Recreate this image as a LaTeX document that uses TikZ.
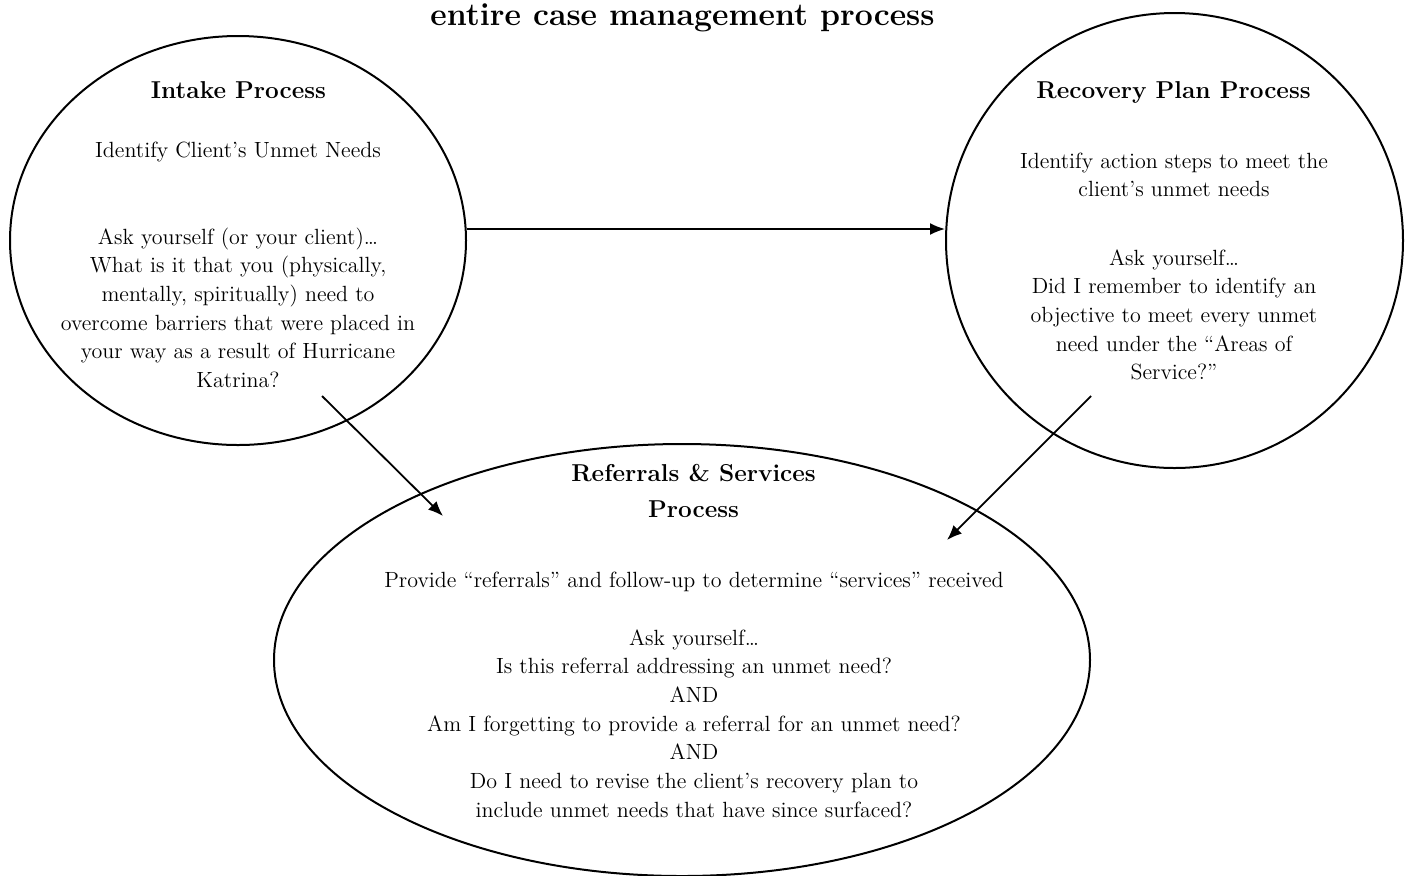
\documentclass[tikz,border=0pt]{standalone}
\usetikzlibrary{shapes.geometric,arrows.meta}
\begin{document}
\begin{tikzpicture}[x=0.5pt,y=-0.5pt,
  oval/.style={ellipse,draw,line width=1pt,inner sep=0pt},
  body/.style={anchor=base,inner sep=0pt,font=\fontsize{11}{13.2}\selectfont},
  head/.style={anchor=base,inner sep=0pt,font=\fontsize{12.2}{15}\selectfont\bfseries},
  arr/.style={line width=0.9pt,-{Latex[length=7.5pt,width=6pt]}}]
\useasboundingbox (0,0) rectangle (1407,875);

% title
\node[anchor=base,inner sep=0pt,font=\fontsize{16}{20}\selectfont\bfseries] (title) at (682.5,25) {entire case management process};

% ellipses
\node[oval,minimum width=228pt,minimum height=204.5pt] (intake) at (238,240.5) {};
\node[oval,minimum width=228.5pt,minimum height=227.5pt] (recovery) at (1174.5,240.5) {};
\node[oval,minimum width=408pt,minimum height=216pt] (referral) at (682,660) {};

% intake text
\node[head] (ih) at (238.5,98) {Intake Process};
\node[body] (i0) at (238,157) {Identify Client’s Unmet Needs};
\node[body] (i1) at (238,244) {Ask yourself (or your client)…};
\node[body] (i2) at (238,272.7) {What is it that you (physically,};
\node[body] (i3) at (238,301.4) {mentally, spiritually) need to};
\node[body] (i4) at (238,330.1) {overcome barriers that were placed in};
\node[body] (i5) at (238,358.8) {your way as a result of Hurricane};
\node[body] (i6) at (238,387.5) {Katrina?};

% recovery text
\node[head] (rh) at (1173.5,98) {Recovery Plan Process};
\node[body] (r0) at (1174,168) {Identify action steps to meet the};
\node[body] (r1) at (1174,196.7) {client’s unmet needs};
\node[body] (r2) at (1174,265) {Ask yourself…};
\node[body] (r3) at (1174,293.7) {Did I remember to identify an};
\node[body] (r4) at (1174,322.4) {objective to meet every unmet};
\node[body] (r5) at (1174,351.1) {need under the “Areas of};
\node[body] (r6) at (1174,379.8) {Service?”};

% referral text
\node[head] (fh1) at (693.5,481) {Referrals \& Services};
\node[head] (fh2) at (693.5,517) {Process};
\node[body] (f0) at (694,587) {Provide “referrals” and follow-up to determine “services” received};
\node[body] (f1) at (694,645) {Ask yourself…};
\node[body] (f2) at (694,673.7) {Is this referral addressing an unmet need?};
\node[body] (f3) at (694,702.4) {AND};
\node[body] (f4) at (694,731.1) {Am I forgetting to provide a referral for an unmet need?};
\node[body] (f5) at (694,759.8) {AND};
\node[body] (f6) at (694,788.5) {Do I need to revise the client’s recovery plan to};
\node[body] (f7) at (694,817.2) {include unmet needs that have since surfaced?};

% connectors
\coordinate (hy) at (700,229);
\coordinate (d1s) at (322,396);
\coordinate (d1e) at (443,516);
\coordinate (d2s) at (1091,396);
\coordinate (d2e) at (947,540);
\draw[arr] (intake.east |- hy) -- (recovery.west |- hy);
\draw[arr] (d1s) -- (d1e);
\draw[arr] (d2s) -- (d2e);
\end{tikzpicture}
\end{document}
